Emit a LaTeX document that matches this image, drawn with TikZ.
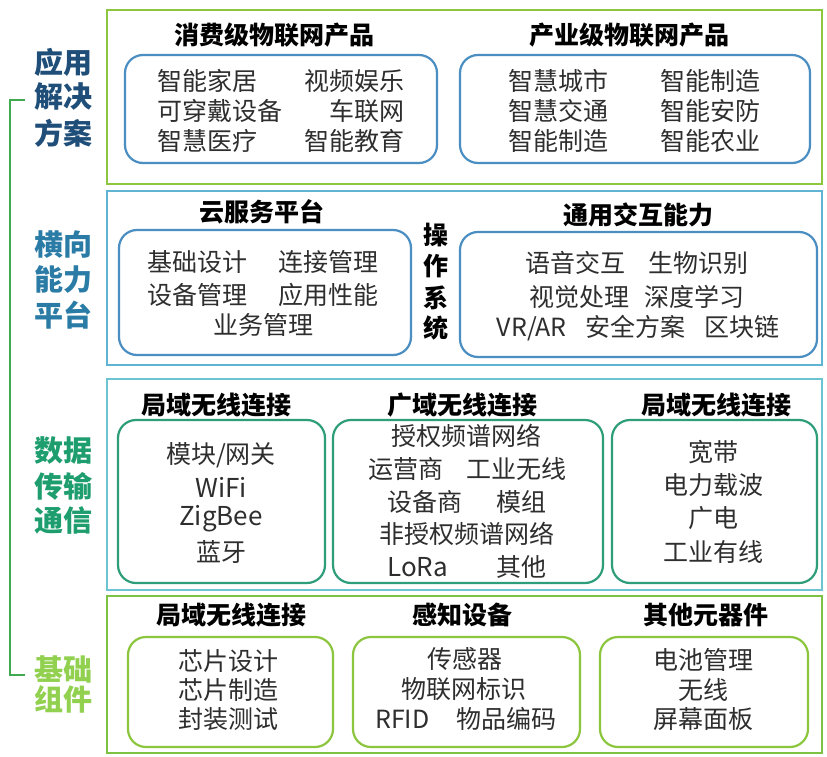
\documentclass[tikz,border=0pt]{standalone}
\usepackage{fontspec}
\setmainfont{Noto Sans CJK SC}
\definecolor{lgreen}{HTML}{8DC63F}
\definecolor{lblue}{HTML}{5FB3D3}
\definecolor{lcyan}{HTML}{6CC3D2}
\definecolor{l4green}{HTML}{7DC242}
\definecolor{boxblue}{HTML}{4A8EC2}
\definecolor{boxteal}{HTML}{2E9E7A}
\definecolor{boxgreen}{HTML}{8CC63F}
\definecolor{brgreen}{HTML}{3FAA4F}
\definecolor{labA}{HTML}{1F4E79}
\definecolor{labB}{HTML}{2A7CA6}
\definecolor{labC}{HTML}{1E9E6E}
\definecolor{labD}{HTML}{92D050}
\definecolor{itemgray}{HTML}{2E2E2E}
\tikzset{
  layer/.style={line width=2.5pt},
  rbox/.style={line width=2.2pt, rounded corners=18pt},
  item/.style={font=\fontsize{25}{30}\selectfont, text=itemgray, inner sep=0pt},
  ttl/.style={font=\fontsize{25}{30}\selectfont\bfseries, text=black, inner sep=0pt},
  side/.style={font=\fontsize{29}{34}\selectfont\bfseries, inner sep=0pt, align=center}
}
\begin{document}
\begin{tikzpicture}[x=1pt,y=-1pt]
\useasboundingbox (0,0) rectangle (827,757);
\fill[white] (0,0) rectangle (827,757);
% layers
\draw[layer, lgreen] (107,10) rectangle (822,184);
\draw[layer, lblue] (107,191) rectangle (822,365);
\draw[layer, lcyan] (107,379) rectangle (822,590);
\draw[layer, l4green] (107,596) rectangle (822,753);
% bracket
\coordinate (bt) at (25,100);
\coordinate (btc) at (10,100);
\coordinate (bbc) at (10,675);
\coordinate (bb) at (25,675);
\draw[brgreen, line width=2.5pt] (bt) -- (btc) -- (bbc) -- (bb);
% side labels
\node[side, text=labA] (sA1) at (63,62) {应用};
\node[side, text=labA] (sA2) at (63,97) {解决};
\node[side, text=labA] (sA3) at (63,133) {方案};
\node[side, text=labB] (sB1) at (63,245) {横向};
\node[side, text=labB] (sB2) at (63,280) {能力};
\node[side, text=labB] (sB3) at (63,315) {平台};
\node[side, text=labC] (sC1) at (63,451) {数据};
\node[side, text=labC] (sC2) at (63,486) {传输};
\node[side, text=labC] (sC3) at (63,520) {通信};
\node[side, text=labD] (sD1) at (63,669) {基础};
\node[side, text=labD] (sD2) at (63,699) {组件};
% ---------- layer 1
\node[ttl] (t11) at (274,35) {消费级物联网产品};
\node[ttl] (t12) at (629,35) {产业级物联网产品};
\draw[rbox, boxblue] (125,55) rectangle (437,163);
\draw[rbox, boxblue] (460,55) rectangle (810,163);
\node[item, anchor=west] (a1) at (157,81) {智能家居};
\node[item, anchor=east] (a2) at (405,81) {视频娱乐};
\node[item, anchor=west] (a3) at (157,111) {可穿戴设备};
\node[item, anchor=east] (a4) at (405,111) {车联网};
\node[item, anchor=west] (a5) at (157,141) {智慧医疗};
\node[item, anchor=east] (a6) at (405,141) {智能教育};
\node[item] (b1) at (558,81) {智慧城市};
\node[item] (b2) at (710,81) {智能制造};
\node[item] (b3) at (558,111) {智慧交通};
\node[item] (b4) at (710,111) {智能安防};
\node[item] (b5) at (558,141) {智能制造};
\node[item] (b6) at (710,141) {智能农业};
% ---------- layer 2
\node[ttl] (t21) at (262,212) {云服务平台};
\node[ttl] (t22) at (638,215) {通用交互能力};
\draw[rbox, boxblue] (119,230) rectangle (411,355);
\draw[rbox, boxblue] (460,232) rectangle (817,357);
\node[item] (c1) at (197,262) {基础设计};
\node[item] (c2) at (328,262) {连接管理};
\node[item] (c3) at (197,295) {设备管理};
\node[item] (c4) at (328,295) {应用性能};
\node[item] (c5) at (263,325) {业务管理};
\node[ttl] (os1) at (436,235) {操};
\node[ttl] (os2) at (436,266) {作};
\node[ttl] (os3) at (436,298) {系};
\node[ttl] (os4) at (436,328) {统};
\node[item] (d1) at (637,263) {语音交互\hspace{0.95em}生物识别};
\node[item] (d2) at (637,297) {视觉处理\hspace{0.6em}深度学习};
\node[item] (d3) at (638,328) {VR/AR\hspace{0.75em}安全方案\hspace{0.75em}区块链};
% ---------- layer 3
\node[ttl] (t31) at (216,405) {局域无线连接};
\node[ttl] (t32) at (462,405) {广域无线连接};
\node[ttl] (t33) at (716,405) {局域无线连接};
\draw[rbox, boxteal] (118,420) rectangle (325,583);
\draw[rbox, boxteal] (333,420) rectangle (603,583);
\draw[rbox, boxteal] (612,420) rectangle (817,583);
\node[item] (e1) at (221,455) {模块/网关};
\node[item, font=\fontsize{26}{30}\selectfont] (e2) at (221,487) {WiFi};
\node[item, font=\fontsize{26}{30}\selectfont] (e3) at (221,519) {ZigBee};
\node[item] (e4) at (221,552) {蓝牙};
\node[item] (f1) at (466,436) {授权频谱网络};
\node[item, anchor=west] (f2) at (368,469) {运营商};
\node[item, anchor=east] (f3) at (567,469) {工业无线};
\node[item, anchor=west] (f4) at (387,502) {设备商};
\node[item, anchor=east] (f5) at (547,502) {模组};
\node[item] (f6) at (467,534) {非授权频谱网络};
\node[item, anchor=west, font=\fontsize{26}{30}\selectfont] (f7) at (387,567) {LoRa};
\node[item, anchor=east] (f8) at (547,567) {其他};
\node[item] (g1) at (713,452) {宽带};
\node[item] (g2) at (713,485) {电力载波};
\node[item] (g3) at (713,518) {广电};
\node[item] (g4) at (713,552) {工业有线};
% ---------- layer 4
\node[ttl] (t41) at (231,615) {局域无线连接};
\node[ttl] (t42) at (462,615) {感知设备};
\node[ttl] (t43) at (706,615) {其他元器件};
\draw[rbox, boxgreen] (128,637) rectangle (333,747);
\draw[rbox, boxgreen] (353,637) rectangle (580,747);
\draw[rbox, boxgreen] (600,637) rectangle (808,747);
\node[item] (h1) at (228,661) {芯片设计};
\node[item] (h2) at (228,690) {芯片制造};
\node[item] (h3) at (228,719) {封装测试};
\node[item] (i1) at (465,659) {传感器};
\node[item] (i2) at (464,689) {物联网标识};
\node[item, anchor=west] (i3) at (375,719) {RFID};
\node[item, anchor=east] (i4) at (557,719) {物品编码};
\node[item] (j1) at (703,660) {电池管理};
\node[item] (j2) at (703,690) {无线};
\node[item] (j3) at (703,719) {屏幕面板};
\end{tikzpicture}
\end{document}
